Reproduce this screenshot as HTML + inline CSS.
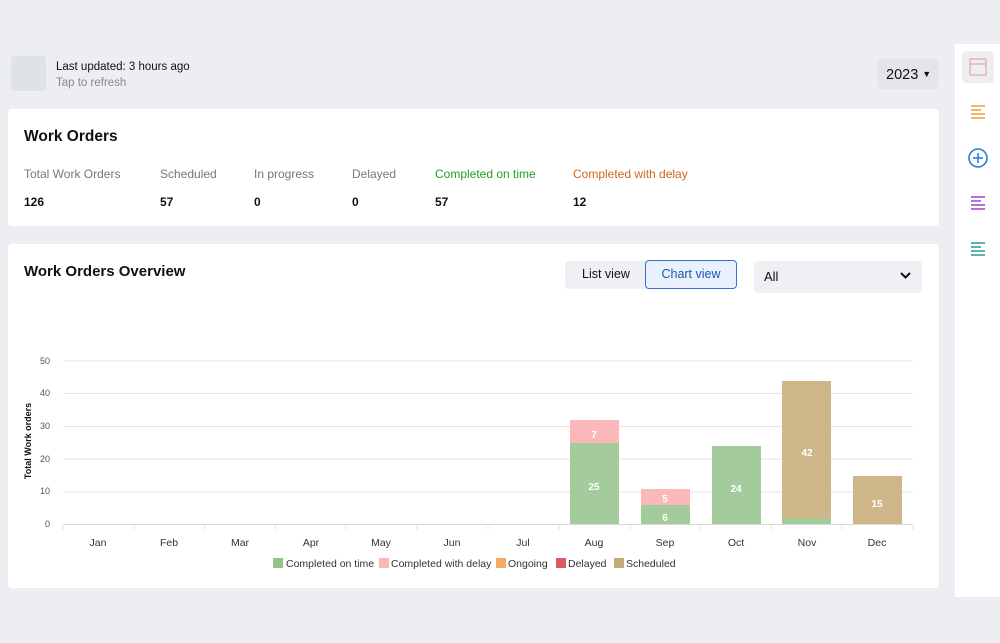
<!DOCTYPE html>
<html><head><style>
*{margin:0;padding:0;box-sizing:border-box}
body{width:1000px;height:643px;background:#eceef2;font-family:"Liberation Sans",sans-serif;position:relative;overflow:hidden;color:#111}
.a{position:absolute}
.card{position:absolute;background:#fff;border-radius:4px}
.lbl{font-size:12px;color:#777}
.val{font-size:12px;font-weight:bold;color:#111}
</style></head><body>
<div class="a" style="left:11px;top:56px;width:35px;height:35px;background:#dfe2e6;border-radius:4px"></div>
<div class="a" style="left:56px;top:61px;font-size:11.5px;color:#111">Last updated: 3 hours ago</div>
<div class="a" style="left:56px;top:77px;font-size:11.5px;color:#888">Tap to refresh</div>
<div class="a" style="left:878px;top:59px;width:60px;height:30px;background:#e3e5ea;border-radius:4px;font-size:14.5px;line-height:30px;padding-left:8px">2023 <span style="font-size:9px;vertical-align:2px">&#9660;</span></div>

<div class="card" style="left:8px;top:109px;width:931px;height:117px"></div>
<div class="a" style="left:24px;top:128px;font-size:15.5px;font-weight:bold">Work Orders</div>
<div class="a lbl" style="left:24px;top:167px">Total Work Orders</div>
<div class="a lbl" style="left:160px;top:167px">Scheduled</div>
<div class="a lbl" style="left:254px;top:167px">In progress</div>
<div class="a lbl" style="left:352px;top:167px">Delayed</div>
<div class="a lbl" style="left:435px;top:167px;color:#22a022">Completed on time</div>
<div class="a lbl" style="left:573px;top:167px;color:#d0661a">Completed with delay</div>
<div class="a val" style="left:24px;top:195px">126</div>
<div class="a val" style="left:160px;top:195px">57</div>
<div class="a val" style="left:254px;top:195px">0</div>
<div class="a val" style="left:352px;top:195px">0</div>
<div class="a val" style="left:435px;top:195px">57</div>
<div class="a val" style="left:573px;top:195px">12</div>

<div class="card" style="left:8px;top:244px;width:931px;height:344px"></div>
<div class="a" style="left:24px;top:263px;font-size:15px;font-weight:bold">Work Orders Overview</div>
<div class="a" style="left:565px;top:261px;width:172px;height:28px;background:#eef0f4;border-radius:4px"></div>
<div class="a" style="left:582px;top:267px;font-size:12.5px">List view</div>
<div class="a" style="left:645px;top:260px;width:92px;height:29px;background:#e8f1fd;border:1px solid #3a72c8;border-radius:4px;font-size:12.5px;color:#2354a8;text-align:center;line-height:27px">Chart view</div>
<div class="a" style="left:754px;top:261px;width:168px;height:32px;background:#eef0f4;border-radius:4px;font-size:13px;line-height:32px;padding-left:10px">All</div>

<svg class="a" style="left:0;top:0" width="1000" height="643" font-family="Liberation Sans,sans-serif">
<polyline points="901,273 905.5,277.5 910,273" fill="none" stroke="#111" stroke-width="2"/>
<g stroke="#e4e4e4" stroke-width="1">
<line x1="63" x2="913" y1="361" y2="361"/><line x1="63" x2="913" y1="393.5" y2="393.5"/><line x1="63" x2="913" y1="426.5" y2="426.5"/><line x1="63" x2="913" y1="459" y2="459"/><line x1="63" x2="913" y1="492" y2="492"/>
<line x1="63" x2="913" y1="524.5" y2="524.5" stroke="#d8d8d8"/>
<line x1="63" x2="63" y1="524" y2="530"/><line x1="134" x2="134" y1="524" y2="530"/><line x1="205" x2="205" y1="524" y2="530"/><line x1="275" x2="275" y1="524" y2="530"/><line x1="346" x2="346" y1="524" y2="530"/><line x1="417" x2="417" y1="524" y2="530"/><line x1="488" x2="488" y1="524" y2="530"/><line x1="559" x2="559" y1="524" y2="530"/><line x1="630" x2="630" y1="524" y2="530"/><line x1="700" x2="700" y1="524" y2="530"/><line x1="771" x2="771" y1="524" y2="530"/><line x1="842" x2="842" y1="524" y2="530"/><line x1="913" x2="913" y1="524" y2="530"/>
</g>
<g font-size="9" fill="#555" text-anchor="end">
<text x="50" y="364">50</text><text x="50" y="396">40</text><text x="50" y="429">30</text><text x="50" y="462">20</text><text x="50" y="494">10</text><text x="50" y="527">0</text>
</g>
<text transform="translate(31,441) rotate(-90)" font-size="9" font-weight="bold" text-anchor="middle" fill="#111">Total Work orders</text>
<g font-size="10.5" fill="#333" text-anchor="middle">
<text x="98" y="546">Jan</text><text x="169" y="546">Feb</text><text x="240" y="546">Mar</text><text x="311" y="546">Apr</text><text x="381" y="546">May</text><text x="452" y="546">Jun</text><text x="523" y="546">Jul</text><text x="594" y="546">Aug</text><text x="665" y="546">Sep</text><text x="736" y="546">Oct</text><text x="807" y="546">Nov</text><text x="877" y="546">Dec</text>
</g>
<rect x="570" y="443" width="49" height="81" fill="#a3cb9c"/>
<rect x="570" y="420" width="49" height="23" fill="#fbb8b8"/>
<rect x="641" y="505" width="49" height="19" fill="#a3cb9c"/>
<rect x="641" y="489" width="49" height="16" fill="#fbb8b8"/>
<rect x="712" y="446" width="49" height="78" fill="#a3cb9c"/>
<rect x="782" y="381" width="49" height="137" fill="#cfb688"/>
<rect x="782" y="518" width="49" height="6" fill="#a3cb9c"/>
<rect x="853" y="476" width="49" height="48" fill="#cfb688"/>
<g font-size="10" font-weight="bold" fill="#fff" text-anchor="middle">
<text x="594" y="438">7</text><text x="594" y="490">25</text><text x="665" y="502">5</text><text x="665" y="521">6</text><text x="736" y="492">24</text><text x="807" y="456">42</text><text x="877" y="507">15</text>
</g>
<g font-size="10.5" fill="#333">
<rect x="273" y="558" width="10" height="10" fill="#93c28b"/><text x="286" y="567">Completed on time</text>
<rect x="379" y="558" width="10" height="10" fill="#fbb8b8"/><text x="391" y="567">Completed with delay</text>
<rect x="496" y="558" width="10" height="10" fill="#f3ab62"/><text x="508" y="567">Ongoing</text>
<rect x="556" y="558" width="10" height="10" fill="#dc5a5f"/><text x="568" y="567">Delayed</text>
<rect x="614" y="558" width="10" height="10" fill="#c5aa79"/><text x="626" y="567">Scheduled</text>
</g>
<rect x="955" y="44" width="45" height="553" fill="#fff"/>
<rect x="962" y="51" width="32" height="32" rx="4" fill="#eceef2"/>
<rect x="970" y="59" width="16" height="16" fill="none" stroke="#e5a5a5" stroke-width="1.2"/><line x1="970" x2="986" y1="64" y2="64" stroke="#e5a5a5" stroke-width="1.2"/>
<g stroke="#f29a3c" stroke-width="1.5"><line x1="971" x2="985" y1="106" y2="106"/><line x1="971" x2="981" y1="110" y2="110"/><line x1="971" x2="985" y1="114" y2="114"/><line x1="971" x2="985" y1="118" y2="118"/></g>
<circle cx="978" cy="158" r="9" fill="none" stroke="#2d7de0" stroke-width="1.6"/><line x1="978" x2="978" y1="153" y2="163" stroke="#2d7de0" stroke-width="1.6"/><line x1="973" x2="983" y1="158" y2="158" stroke="#2d7de0" stroke-width="1.6"/>
<g stroke="#a040c8" stroke-width="1.5"><line x1="971" x2="985" y1="197" y2="197"/><line x1="971" x2="981" y1="201" y2="201"/><line x1="971" x2="985" y1="205" y2="205"/><line x1="971" x2="985" y1="209" y2="209"/></g>
<g stroke="#2a9a8e" stroke-width="1.5"><line x1="971" x2="985" y1="243" y2="243"/><line x1="971" x2="981" y1="247" y2="247"/><line x1="971" x2="985" y1="251" y2="251"/><line x1="971" x2="985" y1="255" y2="255"/></g>
</svg>
</body></html>
